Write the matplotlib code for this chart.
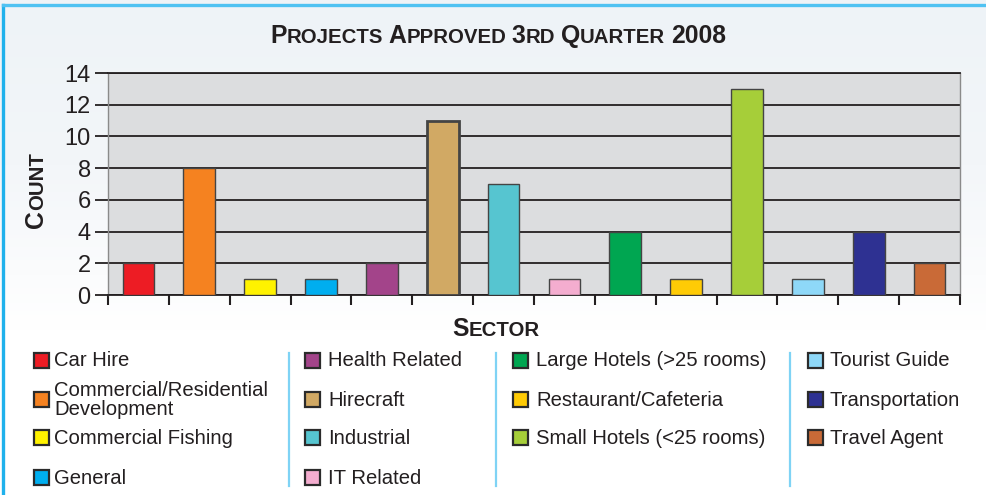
import matplotlib
matplotlib.use('Agg')
import matplotlib.pyplot as plt
import numpy as np
from matplotlib.patches import Rectangle
from matplotlib.lines import Line2D
from matplotlib.colors import LinearSegmentedColormap
from matplotlib.transforms import IdentityTransform

W, H = 986, 495

# data
sectors = ['Car Hire', 'Commercial/Residential\nDevelopment', 'Commercial Fishing', 'General',
           'Health Related', 'Hirecraft', 'Industrial', 'IT Related',
           'Large Hotels (>25 rooms)', 'Restaurant/Cafeteria', 'Small Hotels (<25 rooms)',
           'Tourist Guide', 'Transportation', 'Travel Agent']
counts = [2, 8, 1, 1, 2, 11, 7, 1, 4, 1, 13, 1, 4, 2]
colors = ['#ED1C24', '#F58220', '#FFF200', '#00AEEF', '#A3448A', '#D1A964', '#56C5D0',
          '#F4ADCF', '#00A651', '#FFCB05', '#A6CE39', '#8ED8F8', '#2E3192', '#C96A37']
yticks = [0, 2, 4, 6, 8, 10, 12, 14]

plt.rcParams['font.family'] = ['Liberation Sans', 'DejaVu Sans']


def px(x, y):
    # image pixel -> figure fraction
    return x / W, 1 - y / H


def caps_text(fig, x, y, text, big, small, rotation=0):
    # fake small caps: first letter and digits big, the rest small
    r = fig.canvas.get_renderer()
    pieces = []
    for i, word in enumerate(text.split(' ')):
        if i:
            pieces.append((None, small))
        for j, ch in enumerate(word):
            size = big if (j == 0 or ch.isdigit()) else small
            if pieces and pieces[-1][0] is not None and pieces[-1][1] == size:
                pieces[-1] = (pieces[-1][0] + ch, size)
            else:
                pieces.append((ch, size))
    items = []
    total = 0
    for s, size in pieces:
        if s is None:
            w = 0.278 * size * 100 / 72
            items.append((None, w))
        else:
            t = fig.text(0, 0, s, fontsize=size, weight='bold', color='#231F20',
                         transform=IdentityTransform(), ha='left', va='baseline',
                         rotation=rotation, rotation_mode='anchor')
            t.set_rotation(0)
            w = t.get_window_extent(r).width
            t.set_rotation(rotation)
            items.append((t, w))
        total += w
    pos = -total / 2
    for t, w in items:
        if t is not None:
            if rotation == 0:
                t.set_position((x + pos, H - y))
            else:
                t.set_position((x, H - y + pos))
        pos += w


fig = plt.figure(figsize=(W / 100, H / 100), dpi=100)

# background gradient and frame
bg = fig.add_axes([0, 0, 1, 1], zorder=-5)
cmap = LinearSegmentedColormap.from_list('bg', ['#EEF3F7', '#F3F6F9', '#FFFFFF', '#FFFFFF'])
bg.imshow(np.linspace(0, 1, 200).reshape(-1, 1), aspect='auto', cmap=cmap,
          extent=[0, 1, 0, 1], origin='upper')
bg.set_xlim(0, 1)
bg.set_ylim(0, 1)
bg.axis('off')
fig.add_artist(Line2D([3 / W, 3 / W], [0, 1 - 5 / H], color='#1FB1EC', lw=2.4,
                      transform=fig.transFigure))
fig.add_artist(Line2D([3 / W, 1], [1 - 5 / H, 1 - 5 / H], color='#4FC2F2', lw=2.4,
                      transform=fig.transFigure))

# bar chart
l, b = px(108, 295)
r_, t_ = px(960, 73)
ax = fig.add_axes([l, b, r_ - l, t_ - b])
ax.set_facecolor('#DCDDDF')
x = np.arange(len(sectors))
lws = [2.0 if s == 'Hirecraft' else 1.0 for s in sectors]
ax.bar(x, counts, width=0.52, color=colors, edgecolor='#444444', linewidth=lws, zorder=3)
ax.set_xlim(-0.5, len(sectors) - 0.5)
ax.set_ylim(0, 14)
ax.set_yticks(yticks)
ax.set_yticklabels([str(v) for v in yticks])
ax.yaxis.grid(True, color='#231F20', lw=1.3)
ax.set_axisbelow(True)
ax.set_xticks([])
ax.set_xticks(np.arange(len(sectors) + 1) - 0.5, minor=True)
ax.tick_params(axis='x', which='minor', length=7.5, width=1.5, color='#231F20')
ax.tick_params(axis='y', length=9.5, width=1.3, color='#231F20', labelsize=17,
               labelcolor='#231F20', pad=3)
for side in ['left', 'right']:
    ax.spines[side].set_color('#8A8A8A')
    ax.spines[side].set_linewidth(1.0)
for side in ['top', 'bottom']:
    ax.spines[side].set_color('#231F20')
    ax.spines[side].set_linewidth(1.3)

caps_text(fig, 498, 43, 'PROJECTS APPROVED 3RD QUARTER 2008', 17.8, 14.7)
caps_text(fig, 496, 336, 'SECTOR', 17.8, 14.7)
caps_text(fig, 43, 190, 'COUNT', 17.8, 14.7, rotation=90)

# legend, four columns
box_x = [34, 305, 513, 808]
text_x = [54, 328, 536, 830]
row_y = [360, 399, 437.5, 477]
col_of = [0, 0, 0, 0, 1, 1, 1, 1, 2, 2, 2, 3, 3, 3]
row_of = [0, 1, 2, 3, 0, 1, 2, 3, 0, 1, 2, 0, 1, 2]
for i, name in enumerate(sectors):
    c, rr = col_of[i], row_of[i]
    bx, by = px(box_x[c], row_y[rr] + 7.5)
    fig.add_artist(Rectangle((bx, by), 15 / W, 15 / H, facecolor=colors[i],
                             edgecolor='#2B2B2B', lw=1.6, transform=fig.transFigure))
    tx, ty = px(text_x[c], row_y[rr] + 1)
    fig.text(tx, ty, name, fontsize=14.6, color='#231F20', ha='left', va='center',
             linespacing=0.98)
for sx in [289, 496, 790]:
    fig.add_artist(Line2D([sx / W, sx / W], [1 - 353 / H, 1 - 486 / H], color='#7FD3F5',
                          lw=1.6, transform=fig.transFigure))

fig.savefig('out.png', dpi=100)
